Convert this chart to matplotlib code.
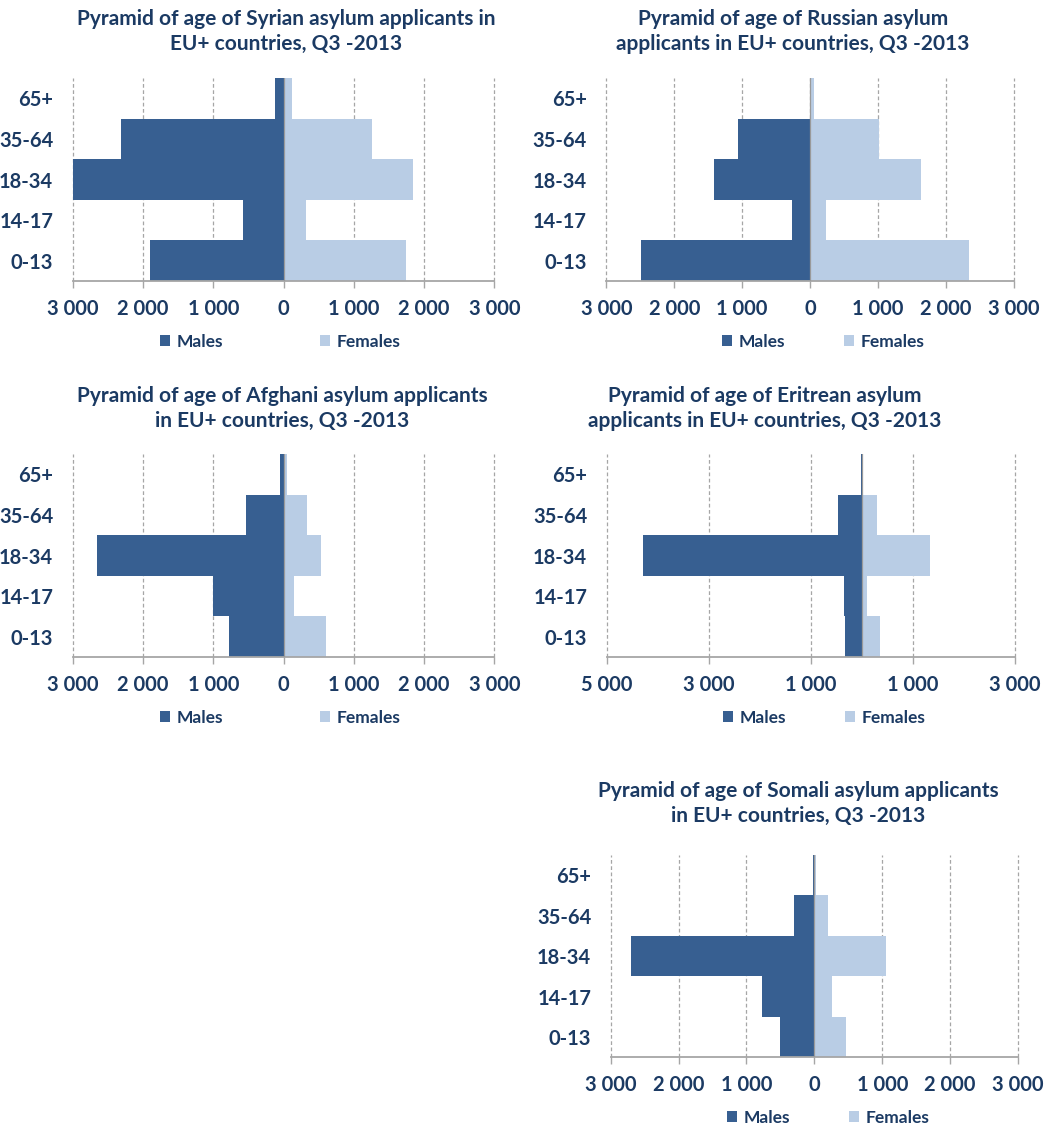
import matplotlib
matplotlib.use("Agg")
import matplotlib.pyplot as plt
from matplotlib.patches import Patch
from matplotlib.ticker import FixedLocator, FuncFormatter

plt.rcParams['font.family'] = ['Lato', 'DejaVu Sans']
plt.rcParams['font.weight'] = 'bold'

# Age groups, bottom to top
age_groups = ["0-13", "14-17", "18-34", "35-64", "65+"]

syrian_males = [1905, 578, 3000, 2308, 114]
syrian_females = [1739, 327, 1839, 1261, 123]

russian_males = [2489, 260, 1419, 1065, 6]
russian_females = [2337, 236, 1640, 1021, 59]

afghani_males = [777, 1005, 2654, 536, 52]
afghani_females = [602, 147, 536, 332, 47]

eritrean_males = [340, 352, 4281, 475, 12]
eritrean_females = [346, 104, 1343, 287, 6]

somali_males = [511, 771, 2700, 300, 15]
somali_females = [466, 265, 1055, 206, 20]

std_ticks = [-3000, -2000, -1000, 0, 1000, 2000, 3000]
eri_ticks = [-5000, -3000, -1000, 1000, 3000]

MALE_C = "#375F91"
FEMALE_C = "#B9CDE5"
TEXT_C = "#1B3A63"
GRID_C = "#A6A6A6"

W, H = 1044, 1126
fig = plt.figure(figsize=(W / 100, H / 100), dpi=100)
fig.patch.set_facecolor("white")

panels = [
    dict(title="Pyramid of age of Syrian asylum applicants in\nEU+ countries, Q3 -2013",
         males=syrian_males, females=syrian_females, ticks=std_ticks, lim=(-3000, 3000),
         box=(72.7, 78, 494.3, 281), title_xy=(286, 31.5), leg_xy=(280, 341.7), colsp=5.6),
    dict(title="Pyramid of age of Russian asylum\napplicants in EU+ countries, Q3 -2013",
         males=russian_males, females=russian_females, ticks=std_ticks, lim=(-3000, 3000),
         box=(606.3, 78, 1013.7, 281), title_xy=(793, 31.5), leg_xy=(823, 341.7), colsp=3.4),
    dict(title="Pyramid of age of Afghani asylum applicants\nin EU+ countries, Q3 -2013",
         males=afghani_males, females=afghani_females, ticks=std_ticks, lim=(-3000, 3000),
         box=(72.7, 454, 494.3, 657), title_xy=(282, 408.3), leg_xy=(280, 718), colsp=5.6),
    dict(title="Pyramid of age of Eritrean asylum\napplicants in EU+ countries, Q3 -2013",
         males=eritrean_males, females=eritrean_females, ticks=eri_ticks, lim=(-5000, 3000),
         box=(606.7, 454, 1015, 657), title_xy=(765, 408.3), leg_xy=(824, 718), colsp=3.4),
    dict(title="Pyramid of age of Somali asylum applicants\nin EU+ countries, Q3 -2013",
         males=somali_males, females=somali_females, ticks=std_ticks, lim=(-3000, 3000),
         box=(610.7, 855, 1018, 1057.3), title_xy=(798, 803.3), leg_xy=(828, 1118), colsp=3.4),
]

ypos = list(range(len(age_groups)))

for p in panels:
    x0, y0, x1, y1 = p["box"]
    ax = fig.add_axes([x0 / W, 1 - y1 / H, (x1 - x0) / W, (y1 - y0) / H])
    ax.barh(ypos, [-v for v in p["males"]], height=1.0, color=MALE_C, edgecolor="none",
            label="Males", zorder=2)
    ax.barh(ypos, p["females"], height=1.0, color=FEMALE_C, edgecolor="none",
            label="Females", zorder=2)
    ax.set_xlim(*p["lim"])
    ax.set_ylim(-0.5, len(age_groups) - 0.5)
    ax.xaxis.set_major_locator(FixedLocator(p["ticks"]))
    ax.xaxis.set_major_formatter(FuncFormatter(lambda v, pos: f"{abs(int(v)):,}".replace(",", " ")))
    ax.set_yticks(ypos)
    ax.set_yticklabels(age_groups)
    for t in p["ticks"]:
        ax.axvline(t, color=GRID_C, lw=0.9, ls=(0, (3, 2)), zorder=1, clip_on=False)
    ax.axvline(0, color="#9A9A9A", lw=0.9, zorder=3)
    for s in ("top", "right", "left"):
        ax.spines[s].set_visible(False)
    ax.spines["bottom"].set_color(GRID_C)
    ax.spines["bottom"].set_linewidth(1.3)
    ax.tick_params(axis="x", colors=GRID_C, length=5, width=1.0, pad=8, labelcolor=TEXT_C,
                   labelsize=14.5)
    ax.tick_params(axis="y", length=0, pad=14, labelcolor=TEXT_C, labelsize=14.5)
    for lab in ax.get_xticklabels() + ax.get_yticklabels():
        lab.set_fontweight("bold")

    fig.text(p["title_xy"][0] / W, 1 - p["title_xy"][1] / H, p["title"], ha="center",
             va="center", fontsize=15, fontweight="bold", color=TEXT_C, linespacing=1.3)

    handles = [Patch(facecolor=MALE_C, edgecolor="none"), Patch(facecolor=FEMALE_C, edgecolor="none")]
    leg = fig.legend(handles, ["Males", "Females"], loc="center",
                     bbox_to_anchor=(p["leg_xy"][0] / W, 1 - p["leg_xy"][1] / H),
                     ncol=2, frameon=False, handlelength=0.6, handleheight=0.6,
                     handletextpad=0.35, columnspacing=p["colsp"],
                     prop=dict(size=12.5, weight="bold"))
    for t in leg.get_texts():
        t.set_color(TEXT_C)

fig.savefig("out.png", dpi=100, facecolor="white")
